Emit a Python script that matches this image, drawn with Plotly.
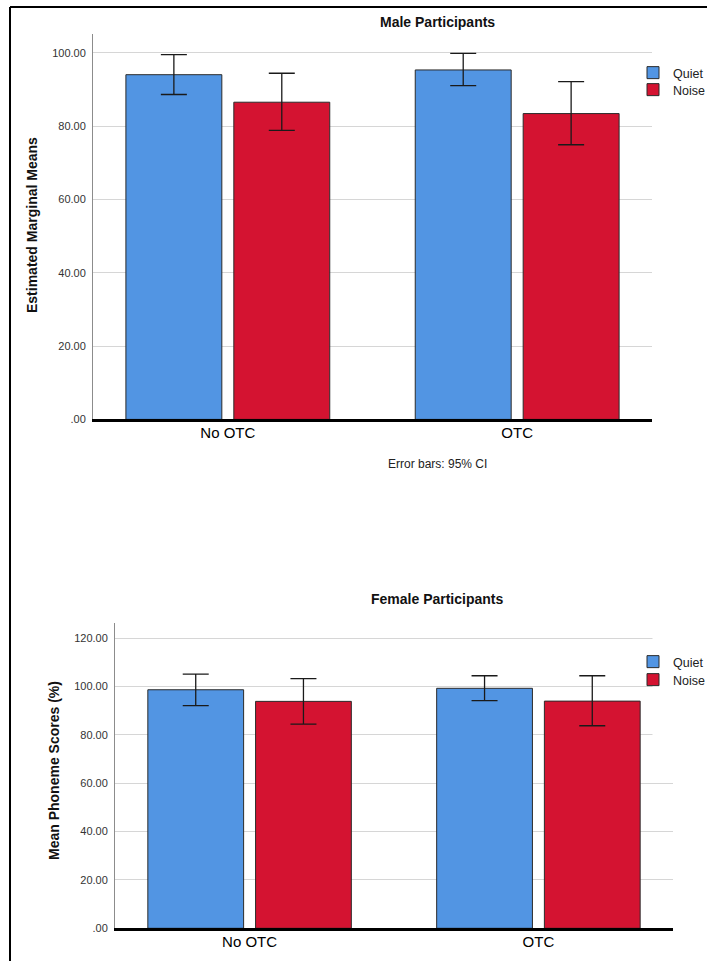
import plotly.graph_objects as go

# ---- data -------------------------------------------------------------
categories = ["No OTC", "OTC"]

# Male participants: estimated marginal means with 95% CI limits
male_quiet_mean = [94.0, 95.3]
male_quiet_lo = [88.6, 91.0]
male_quiet_hi = [99.5, 99.8]
male_noise_mean = [86.5, 83.4]
male_noise_lo = [78.8, 74.9]
male_noise_hi = [94.4, 92.1]

# Female participants: mean phoneme scores (%) with 95% CI limits
female_quiet_mean = [98.7, 99.3]
female_quiet_lo = [92.1, 94.2]
female_quiet_hi = [105.2, 104.5]
female_noise_mean = [93.9, 94.0]
female_noise_lo = [84.5, 83.8]
female_noise_hi = [103.3, 104.5]

male_ticks = [0, 20, 40, 60, 80, 100]
male_ticktext = [".00", "20.00", "40.00", "60.00", "80.00", "100.00"]
female_ticks = [0, 20, 40, 60, 80, 100, 120]
female_ticktext = [".00", "20.00", "40.00", "60.00", "80.00", "100.00", "120.00"]

# ---- styling ----------------------------------------------------------
# layout positions are given on a 707 x 961 page and converted to paper fractions;
# the figure itself fills the browser window
W, H = 707, 961
FONT = "Liberation Sans, Arial, sans-serif"
BLUE = "#5295E3"
RED = "#D41331"
OUTLINE = "#2b2b2b"


def px(x):
    return x / W


def py(y):
    return 1 - y / H


def err(mean, lo, hi):
    return dict(
        type="data",
        symmetric=False,
        array=[h - m for m, h in zip(mean, hi)],
        arrayminus=[m - l for m, l in zip(mean, lo)],
        color="#1a1a1a",
        thickness=1.3,
        width=13,
    )


fig = go.Figure()

fig.add_bar(x=categories, y=male_quiet_mean, name="Quiet", marker_color=BLUE,
            marker_line=dict(color=OUTLINE, width=1),
            error_y=err(male_quiet_mean, male_quiet_lo, male_quiet_hi),
            xaxis="x", yaxis="y", legend="legend")
fig.add_bar(x=categories, y=male_noise_mean, name="Noise", marker_color=RED,
            marker_line=dict(color=OUTLINE, width=1),
            error_y=err(male_noise_mean, male_noise_lo, male_noise_hi),
            xaxis="x", yaxis="y", legend="legend2")
fig.add_bar(x=categories, y=female_quiet_mean, name="Quiet", marker_color=BLUE,
            marker_line=dict(color=OUTLINE, width=1),
            error_y=err(female_quiet_mean, female_quiet_lo, female_quiet_hi),
            xaxis="x2", yaxis="y2", legend="legend3")
fig.add_bar(x=categories, y=female_noise_mean, name="Noise", marker_color=RED,
            marker_line=dict(color=OUTLINE, width=1),
            error_y=err(female_noise_mean, female_noise_lo, female_noise_hi),
            xaxis="x2", yaxis="y2", legend="legend4")

xaxis_common = dict(
    type="category", range=[-0.466, 1.466], showline=True, linecolor="black",
    linewidth=3, showgrid=False, ticks="", tickfont=dict(family=FONT, size=15, color="black"),
    ticklabelstandoff=-2, fixedrange=True,
)
yaxis_common = dict(
    showline=True, linecolor="#8c8c8c", linewidth=1, showgrid=True,
    gridcolor="#d6d6d6", gridwidth=1, zeroline=False, ticks="",
    tickfont=dict(family=FONT, size=11, color="#333333"), ticklabelstandoff=4,
)


def legend_at(x, y):
    # one legend entry, symbol centred near (x + 20, y)
    return dict(x=px(x), y=py(y), xanchor="left", yanchor="middle",
                font=dict(family=FONT, size=12.5, color="#222222"),
                bgcolor="rgba(0,0,0,0)", borderwidth=0)


fig.update_layout(
    autosize=True,
    margin=dict(l=0, r=0, t=0, b=0, autoexpand=False),
    paper_bgcolor="white", plot_bgcolor="white",
    barmode="group", bargap=0.254, bargroupgap=0.111,
    font=dict(family=FONT, color="#222222"),
    xaxis=dict(xaxis_common, domain=[px(93), px(652)], anchor="y"),
    yaxis=dict(yaxis_common, domain=[py(419.4), py(34)], range=[0, 105.1],
               tickvals=male_ticks, ticktext=male_ticktext, anchor="x"),
    xaxis2=dict(xaxis_common, domain=[px(115), px(673)], anchor="y2"),
    yaxis2=dict(yaxis_common, domain=[py(928.3), py(623.3)], range=[0, 126.2],
                tickvals=female_ticks, ticktext=female_ticktext, anchor="x2"),
    legend=legend_at(633, 73),
    legend2=legend_at(633, 90),
    legend3=legend_at(633, 662),
    legend4=legend_at(633, 680),
    showlegend=True,
)

annotations = [
    dict(text="<b>Male Participants</b>", x=px(437), y=py(22), font=dict(size=14, color="#111111")),
    dict(text="<b>Female Participants</b>", x=px(437), y=py(599), font=dict(size=14, color="#111111")),
    dict(text="<b>Estimated Marginal Means</b>", x=px(32), y=py(225), textangle=-90,
         font=dict(size=14, color="#111111")),
    dict(text="<b>Mean Phoneme Scores (%)</b>", x=px(54), y=py(771), textangle=-90,
         font=dict(size=14, color="#111111")),
    dict(text="Error bars: 95% CI", x=px(437), y=py(464), font=dict(size=12, color="#222222")),
]
for a in annotations:
    a.update(xref="paper", yref="paper", showarrow=False, xanchor="center", yanchor="middle")
    a["font"]["family"] = FONT
fig.update_layout(annotations=annotations)

# page frame and the blank strip beside the lower legend
fig.update_layout(shapes=[
    dict(type="rect", xref="paper", yref="paper", x0=px(652.5), x1=1, y0=py(760), y1=py(615),
         fillcolor="white", line=dict(width=0), layer="above"),
    dict(type="line", xref="paper", yref="paper", x0=px(10), x1=px(10), y0=0, y1=py(7),
         line=dict(color="black", width=2)),
    dict(type="line", xref="paper", yref="paper", x0=px(10), x1=1, y0=py(7), y1=py(7),
         line=dict(color="black", width=2)),
])

fig.write_html("out.html", config={"displayModeBar": False, "responsive": True},
               default_width="100%", default_height="100vh")
